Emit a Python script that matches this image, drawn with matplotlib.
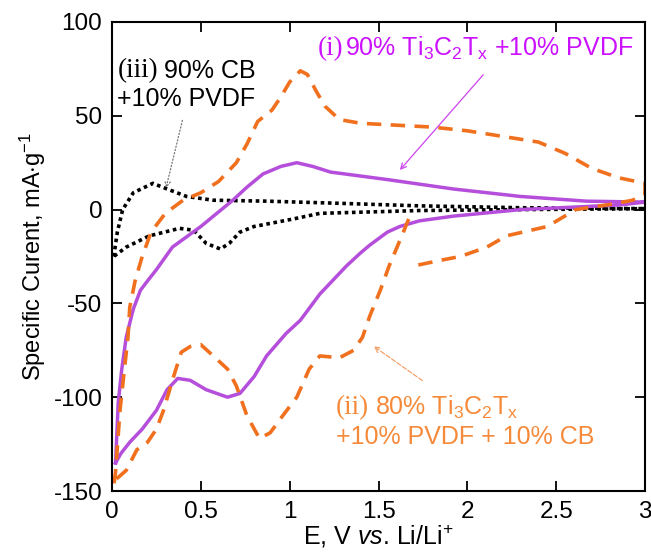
import matplotlib.pyplot as plt

plt.rcParams['font.family'] = ['Liberation Sans', 'DejaVu Sans']
plt.rcParams['mathtext.fontset'] = 'custom'
plt.rcParams['mathtext.rm'] = 'Liberation Sans'
plt.rcParams['mathtext.it'] = 'Liberation Sans:italic'
plt.rcParams['axes.unicode_minus'] = False

# (ii) 80% Ti3C2Tx + 10% PVDF + 10% CB  (orange dashed), starts at OCV
mx_cb_E = [1.67, 1.64, 1.56, 1.51, 1.45, 1.41, 1.36, 1.28, 1.17, 1.11, 1.04,
           0.96, 0.89, 0.83, 0.76, 0.70, 0.65, 0.57, 0.50, 0.44, 0.39, 0.34,
           0.29, 0.25, 0.20, 0.14, 0.08, 0.02, 0.01,
           0.02, 0.045, 0.07, 0.09, 0.10, 0.13, 0.17, 0.22, 0.30, 0.40, 0.50,
           0.60, 0.70, 0.76, 0.82, 0.90, 0.95, 1.00, 1.06, 1.10, 1.15, 1.20,
           1.28, 1.40, 1.60, 1.80, 2.00, 2.20, 2.40, 2.55, 2.70, 2.85, 2.95,
           3.00,
           3.00, 2.93, 2.82, 2.61, 2.45, 2.22, 2.11, 1.96, 1.85, 1.70]
mx_cb_I = [-5, -12, -30, -43, -57, -68, -75, -79, -78, -85, -100,
           -110, -119, -122, -110, -94, -85, -78, -72, -73, -76, -91,
           -107, -117, -124, -128, -139, -144, -147,
           -140, -107, -85, -68, -52, -38, -25, -12, -2, 5, 9,
           15, 25, 35, 47, 53, 60, 68, 74, 72, 63, 55,
           48, 46, 45, 44, 42, 39, 36, 30, 22, 17, 15,
           14,
           8, 5, 3, 0, -9, -14, -20, -25, -27, -30]

# (i) 90% Ti3C2Tx + 10% PVDF  (purple solid)
mx_E = [0.02, 0.035, 0.055, 0.08, 0.12, 0.16, 0.20, 0.25, 0.34, 0.50, 0.68,
        0.76, 0.85, 0.95, 1.04, 1.13, 1.23, 1.55, 1.92, 2.30, 2.67, 3.00,
        2.86, 2.30, 1.92, 1.73, 1.62, 1.55, 1.45, 1.40, 1.32, 1.17, 1.06,
        0.98, 0.87, 0.80, 0.72, 0.65, 0.53, 0.44, 0.37, 0.31, 0.25, 0.17,
        0.10, 0.05, 0.02]
mx_I = [-135, -103, -85, -68, -53, -43, -38, -32, -20, -9, 5,
        12, 19, 23, 25, 23, 20, 16, 11, 7, 4.5, 4,
        2.5, 0, -3.5, -6, -9, -12, -19, -23, -30, -45, -59,
        -66, -78, -89, -98, -100, -96, -91, -90, -96, -107, -117,
        -124, -130, -135]

# (iii) 90% CB + 10% PVDF  (black dotted)
cb_E = [0.01, 0.03, 0.06, 0.12, 0.23, 0.31, 0.42, 0.57, 0.87, 1.23, 1.73,
        2.30, 3.00,
        2.30, 1.73, 1.17, 1.02, 0.80, 0.72, 0.66, 0.61, 0.53, 0.46, 0.38,
        0.21, 0.08, 0.01]
cb_I = [-25, -12, 0, 9, 14, 11, 7, 5, 4.5, 3.5, 2,
        1, 0.5,
        0, -0.5, -2, -5, -9, -12, -18, -21, -18, -11, -10,
        -14, -20, -25]

xticks = [0, 0.5, 1, 1.5, 2, 2.5, 3]
xticklabels = ['0', '0.5', '1', '1.5', '2', '2.5', '3']
yticks = [-150, -100, -50, 0, 50, 100]

fig = plt.figure(figsize=(6.51, 5.58), dpi=100)
ax = fig.add_axes([112 / 651, 1 - 491 / 558, 533 / 651, 469 / 558])

ax.plot(cb_E, cb_I, color='black', lw=2.6, linestyle=(0, (1, 1)))
ax.plot(mx_E, mx_I, color='#b54fdb', lw=2.5)
ax.plot(mx_cb_E, mx_cb_I, color='#f0701e', lw=2.6, linestyle=(0, (4, 2.6)))

ax.set_xlim(0, 3)
ax.set_ylim(-150, 100)
ax.set_xticks(xticks)
ax.set_xticklabels(xticklabels)
ax.set_yticks(yticks)
ax.tick_params(direction='in', length=7, width=1.3, labelsize=17.5,
               top=True, right=True, pad=7)
for s in ax.spines.values():
    s.set_linewidth(1.5)

ax.set_xlabel(r'E, V $\it{vs}$. Li/Li$^{+}$', fontsize=18, labelpad=0)
ax.set_ylabel(r'Specific Curent, mA$\cdot$g$^{-1}$', fontsize=17, labelpad=4)

fs = 18
fs_serif = 19.5
# annotations
ax.text(0.03, 74, '(iii)', family='Liberation Serif', fontsize=fs_serif,
        color='black', va='center')
ax.text(0.29, 74, '90% CB', fontsize=fs, color='black', va='center')
ax.text(0.03, 59, '+10% PVDF', fontsize=fs, color='black', va='center')
ax.annotate('', xy=(0.30, 10), xytext=(0.40, 49),
            arrowprops=dict(arrowstyle='->', color='#777777', lw=0.9,
                            linestyle=':'))

ax.text(1.16, 86, '(i)', family='Liberation Serif', fontsize=fs_serif,
        color='#cc11ff', va='center')
ax.text(1.31, 86, r'90% Ti$_3$C$_2$T$_\mathrm{x}$ +10% PVDF', fontsize=fs,
        color='#cc11ff', va='center')
ax.annotate('', xy=(1.61, 20), xytext=(2.10, 73),
            arrowprops=dict(arrowstyle='->', color='#cc44ee', lw=0.9))

ax.text(1.26, -105.5, '(ii)', family='Liberation Serif', fontsize=fs_serif,
        color='#f58a3a', va='center')
ax.text(1.48, -105.5, r'80% Ti$_3$C$_2$T$_\mathrm{x}$', fontsize=fs,
        color='#f58a3a', va='center')
ax.text(1.26, -121, '+10% PVDF + 10% CB', fontsize=fs,
        color='#f58a3a', va='center')
ax.annotate('', xy=(1.46, -72), xytext=(1.76, -92),
            arrowprops=dict(arrowstyle='->', color='#f5a06a', lw=0.9,
                            linestyle='--'))

fig.savefig('out.png', dpi=100)
